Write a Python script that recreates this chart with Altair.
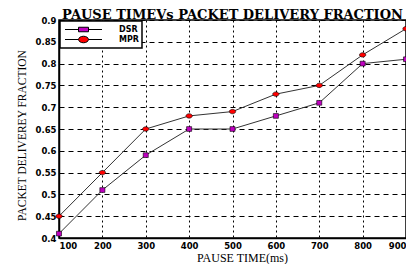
import altair as alt
import pandas as pd

pause = [100, 200, 300, 400, 500, 600, 700, 800, 900]
dsr = [0.41, 0.51, 0.59, 0.65, 0.65, 0.68, 0.71, 0.80, 0.81]
mpr = [0.45, 0.55, 0.65, 0.68, 0.69, 0.73, 0.75, 0.82, 0.88]
series_names = ["DSR", "MPR"]
series_colors = ["#c000c0", "#ff0000"]
y_ticks = [0.4, 0.45, 0.5, 0.55, 0.6, 0.65, 0.7, 0.75, 0.8, 0.85, 0.9]

rows = []
for i, p in enumerate(pause):
    rows.append({"pause": p, "pdf": dsr[i], "series": "DSR"})
    rows.append({"pause": p, "pdf": mpr[i], "series": "MPR"})
df = pd.DataFrame(rows)

tick_font = "DejaVu Sans"
serif = "Liberation Serif"

x = alt.X("pause:Q", scale=alt.Scale(domain=[100, 900], nice=False),
          axis=alt.Axis(values=pause, title="PAUSE TIME(ms)", grid=True,
                        gridDash=[2, 3], gridColor="black", gridOpacity=1,
                        domainColor="black", domainWidth=1.5, tickSize=0,
                        labelFont=tick_font, labelFontSize=8.5, labelFontWeight="bold",
                        labelColor="black", labelPadding=3,
                        titleFont=serif, titleFontSize=12, titleFontWeight="normal",
                        titleColor="black", titlePadding=3, titleX=183))
y = alt.Y("pdf:Q", scale=alt.Scale(domain=[0.4, 0.9], nice=False, zero=False),
          axis=alt.Axis(values=y_ticks, format="~g", title="PACKET DELIVEREY FRACTION",
                        grid=True, gridDash=[5, 4], gridColor="black", gridOpacity=1,
                        domainColor="black", domainWidth=1.5, tickSize=0,
                        labelFont=tick_font, labelFontSize=8.5, labelFontWeight="bold",
                        labelColor="black", labelPadding=3,
                        titleFont=serif, titleFontSize=11.5, titleFontWeight="normal",
                        titleColor="black", titlePadding=8, titleY=115))

ellipse = "M-1,0A1,0.7 0 1,0 1,0A1,0.7 0 1,0 -1,0Z"
square = "M-0.8,-0.75H0.8V0.75H-0.8Z"

lines = alt.Chart(df).mark_line(color="#333333", strokeWidth=1).encode(
    x=x, y=y, detail="series:N")

points = alt.Chart(df).mark_point(filled=True, stroke="black", strokeWidth=0.6, opacity=1).encode(
    x=x, y=y,
    fill=alt.Fill("series:N", scale=alt.Scale(domain=series_names, range=series_colors), legend=None),
    shape=alt.Shape("series:N", scale=alt.Scale(domain=series_names, range=[square, ellipse]), legend=None),
    size=alt.value(40))

leg_sq = "M-3.7,0H-1M1,0H3.7M-1,-0.45H1V0.45H-1Z"
leg_el = "M-3.7,0H-1M1,0H3.7M-1,0A1,0.65 0 1,0 1,0A1,0.65 0 1,0 -1,0Z"

legend = alt.Legend(title=None, orient="none", legendX=1, legendY=1,
                    strokeColor="black", fillColor="white", padding=3,
                    symbolSize=100, symbolStrokeColor="#000000", symbolStrokeWidth=1,
                    symbolOpacity=1, symbolOffset=15, labelOffset=30,
                    labelFont=tick_font, labelFontSize=8, labelFontWeight="bold",
                    labelColor="black", rowPadding=0)

legend_layer = alt.Chart(df).mark_point(filled=False, strokeWidth=1, opacity=0).encode(
    x=x, y=y,
    fill=alt.Fill("series:N", scale=alt.Scale(domain=series_names, range=series_colors), legend=legend),
    stroke=alt.Stroke("series:N", scale=alt.Scale(domain=series_names, range=["#000000", "#000000"]), legend=legend),
    shape=alt.Shape("series:N", scale=alt.Scale(domain=series_names, range=[leg_sq, leg_el]), legend=legend))

chart = alt.layer(lines, points, legend_layer).resolve_scale(
    shape="independent", fill="independent", stroke="independent"
).properties(
    width=347, height=218,
    autosize=alt.AutoSizeParams(type="none"),
    padding={"left": 51, "top": 12, "right": 0, "bottom": 26},
    title=alt.Title("PAUSE TIMEVs PACKET DELIVERY FRACTION", font="DejaVu Serif", fontSize=13,
                    fontWeight="bold", color="black", anchor="middle", offset=0, dy=6),
).configure_view(stroke="black", strokeWidth=1.5).configure_legend(strokeWidth=1.5, cornerRadius=0)

chart.save("out.html", embed_options={"renderer": "svg", "actions": False})
